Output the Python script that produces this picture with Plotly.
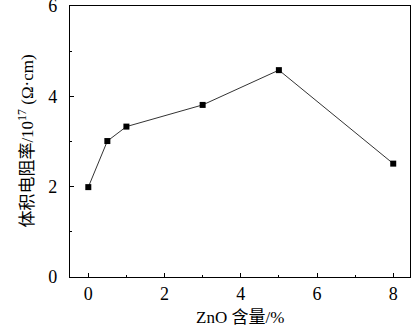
import plotly.graph_objects as go

zno_content = [0, 0.5, 1, 3, 5, 8]
resistivity = [1.99, 3.01, 3.33, 3.81, 4.58, 2.51]

FONT = "Liberation Serif, Times New Roman, Noto Sans CJK SC, serif"

fig = go.Figure()
fig.add_trace(go.Scatter(
    x=zno_content, y=resistivity, mode="lines+markers",
    line=dict(color="#333333", width=1),
    marker=dict(symbol="square", size=6, color="black"),
    showlegend=False,
))

axis_common = dict(
    showline=True, linecolor="black", linewidth=1.2, mirror=True,
    ticks="inside", ticklen=4, tickcolor="black", tickwidth=1,
    showgrid=False, zeroline=False, automargin=False,
    ticklabeloverflow="allow",
    tickfont=dict(family=FONT, size=18, color="black"),
    minor=dict(ticks="inside", ticklen=2, dtick=1, tickcolor="black"),
)

fig.update_layout(
    width=412, height=328,
    margin=dict(l=70, r=2, t=6, b=51),
    paper_bgcolor="white", plot_bgcolor="white",
    xaxis=dict(range=[-0.48, 8.44], dtick=2, tick0=0, **axis_common),
    yaxis=dict(range=[0, 6.0001], dtick=2, tick0=0, ticklabelstandoff=8, **axis_common),
    annotations=[
        dict(text="ZnO 含量/%", xref="paper", yref="paper", x=0.5, y=-0.151,
             xanchor="center", yanchor="middle", showarrow=False,
             font=dict(family=FONT, size=17, color="black")),
        dict(text="体积电阻率/10<sup>17</sup> (Ω·cm)", xref="paper", yref="paper",
             x=-0.132, y=0.5, xanchor="center", yanchor="middle", textangle=-90,
             showarrow=False, font=dict(family=FONT, size=17, color="black")),
    ],
)

fig.write_html("out.html", config={"displayModeBar": False},
               post_script="document.body.style.margin='0';document.body.style.padding='0';")
